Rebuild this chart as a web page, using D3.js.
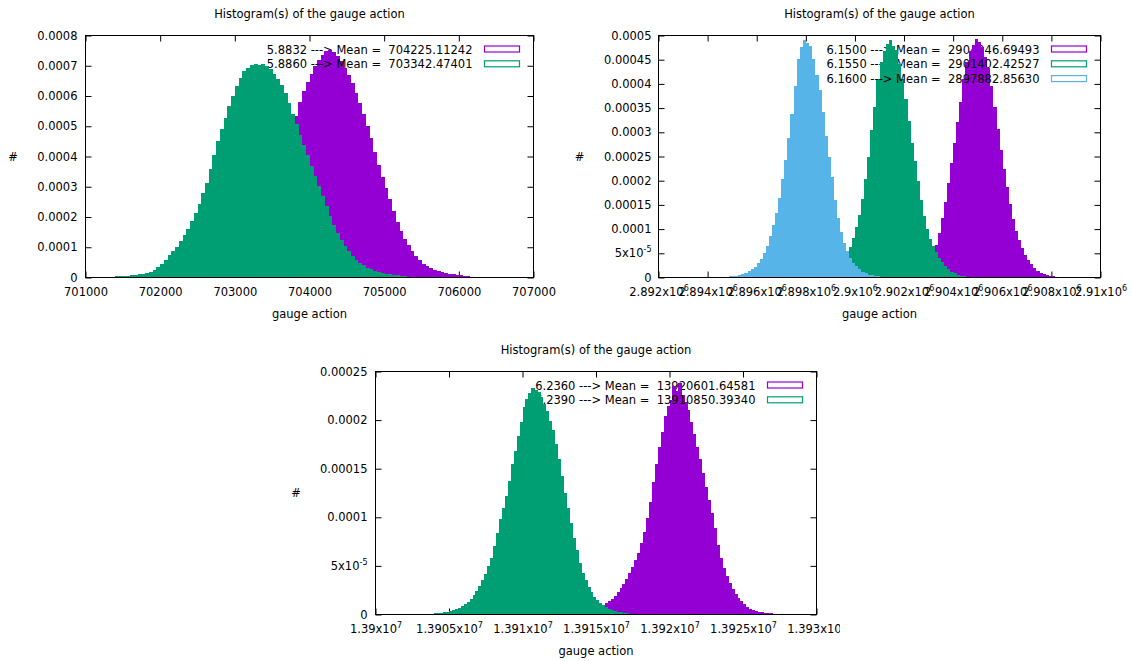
<!DOCTYPE html>
<html>
<head>
<meta charset="utf-8">
<script src="https://cdn.jsdelivr.net/npm/d3@7"></script>
<style>
  body { margin: 0; background: #fff; }
  svg text { font-family: "DejaVu Sans", sans-serif; font-size: 11.5px; fill: #000; white-space: pre; }
</style>
</head>
<body>
<svg id="chart" width="1132" height="661"></svg>
<script>
// histogram heights are typed in units of 1e-6
const UNIT = 1e-6;

const titleText = "Histogram(s) of the gauge action";
const xLabelText = "gauge action";
const yLabelText = "#";

const purple = "#9400d3";
const green = "#009e73";
const blue = "#56b4e9";

// ---- panel 1 (top left)
const p1XTicks = [701000, 702000, 703000, 704000, 705000, 706000, 707000];
const p1XLabels = ["701000", "702000", "703000", "704000", "705000", "706000", "707000"];
const p1YTicks = [0, 0.0001, 0.0002, 0.0003, 0.0004, 0.0005, 0.0006, 0.0007, 0.0008];
const p1YLabels = ["0", "0.0001", "0.0002", "0.0003", "0.0004", "0.0005", "0.0006", "0.0007", "0.0008"];
const p1Keys = ["5.8832 ---> Mean =  704225.11242", "5.8860 ---> Mean =  703342.47401"];
const p1BinWidth = 50;
const p1PurpleStart = 702200;
const p1Purple = [
  1, 1, 2, 2, 3, 4, 5, 6, 8, 10,
  13, 16, 20, 25, 32, 40, 50, 62, 76, 92,
  112, 135, 160, 188, 220, 255, 292, 332, 372, 414,
  456, 498, 535, 580, 618, 645, 672, 698, 718, 737,
  748, 752, 744, 733, 715, 693, 668, 642, 610, 578,
  541, 501, 460, 415, 371, 333, 296, 258, 220, 184,
  155, 128, 106, 88, 72, 58, 46, 37, 30, 25,
  20, 17, 14, 12, 10, 8, 7, 5, 4, 3,
  3, 2, 2, 2, 1, 1, 1, 1, 1, 1,
  1];
const p1GreenStart = 701100;
const p1Green = [
  1, 1, 2, 2, 3, 3, 4, 4, 5, 6,
  8, 9, 10, 12, 15, 19, 26, 34, 44, 58,
  74, 88, 102, 121, 139, 160, 186, 214, 244, 278,
  313, 358, 404, 450, 492, 528, 566, 601, 632, 658,
  681, 694, 702, 706, 704, 707, 699, 688, 674, 657,
  636, 610, 577, 540, 506, 472, 438, 404, 370, 336,
  302, 268, 236, 204, 175, 148, 123, 103, 86, 71,
  58, 48, 40, 33, 28, 23, 19, 16, 13, 11,
  9, 7, 6, 4, 3, 3, 2, 2, 1, 1,
  1];

// ---- panel 2 (top right)
const p2XTicks = [2892000, 2894000, 2896000, 2898000, 2900000, 2902000, 2904000, 2906000, 2908000, 2910000];
const p2XLabels = ["2.892x10^6", "2.894x10^6", "2.896x10^6", "2.898x10^6", "2.9x10^6",
  "2.902x10^6", "2.904x10^6", "2.906x10^6", "2.908x10^6", "2.91x10^6"];
const p2YTicks = [0, 0.00005, 0.0001, 0.00015, 0.0002, 0.00025, 0.0003, 0.00035, 0.0004, 0.00045, 0.0005];
const p2YLabels = ["0", "5x10^-5", "0.0001", "0.00015", "0.0002", "0.00025", "0.0003", "0.00035", "0.0004", "0.00045", "0.0005"];
const p2Keys = ["6.1500 ---> Mean =  2904946.69493", "6.1550 ---> Mean =  2901402.42527", "6.1600 ---> Mean =  2897882.85630"];
const p2BinWidth = 125;
const p2PurpleStart = 2901750;
const p2Purple = [
  1, 1, 2, 3, 4, 6, 9, 13, 19, 27,
  37, 50, 68, 92, 122, 155, 196, 236, 278, 322,
  362, 410, 445, 468, 480, 492, 486, 476, 455, 432,
  395, 352, 306, 264, 224, 186, 152, 120, 96, 78,
  60, 46, 36, 27, 20, 14, 10, 7, 5, 4,
  3, 2, 2, 1, 1, 1, 1];
const p2GreenStart = 2898250;
const p2Green = [
  1, 1, 2, 3, 4, 6, 9, 13, 18, 26,
  35, 47, 63, 82, 104, 130, 162, 203, 250, 305,
  352, 410, 446, 468, 482, 490, 478, 470, 442, 410,
  368, 324, 278, 240, 200, 160, 128, 101, 80, 66,
  52, 41, 31, 24, 17, 12, 9, 6, 4, 3,
  2, 1, 1];
const p2BlueStart = 2894250;
const p2Blue = [
  1, 1, 1, 2, 2, 3, 3, 4, 6, 8,
  10, 13, 17, 22, 29, 38, 50, 66, 85, 108,
  134, 165, 203, 242, 288, 338, 395, 452, 476, 490,
  484, 478, 452, 418, 388, 342, 293, 250, 207, 160,
  123, 94, 72, 55, 41, 30, 23, 17, 12, 9,
  6, 5, 3, 3, 2, 1, 1];

// ---- panel 3 (bottom)
const p3XTicks = [13900000, 13905000, 13910000, 13915000, 13920000, 13925000, 13930000];
const p3XLabels = ["1.39x10^7", "1.3905x10^7", "1.391x10^7", "1.3915x10^7", "1.392x10^7", "1.3925x10^7", "1.393x10^7"];
const p3YTicks = [0, 0.00005, 0.0001, 0.00015, 0.0002, 0.00025];
const p3YLabels = ["0", "5x10^-5", "0.0001", "0.00015", "0.0002", "0.00025"];
const p3Keys = ["6.2360 ---> Mean =  13920601.64581", "6.2390 ---> Mean =  13910850.39340"];
const p3BinWidth = 200;
const p3PurpleStart = 13912400;
const p3Purple = [
  1, 1, 1, 1, 1, 2, 2, 2, 3, 3,
  4, 5, 6, 7, 8, 10, 12, 14, 16, 19,
  23, 27, 31, 37, 43, 49, 56, 63, 74, 85,
  99, 116, 136, 155, 172, 188, 204, 214, 221, 235,
  230, 238, 226, 219, 210, 198, 186, 172, 160, 146,
  131, 118, 104, 89, 72, 58, 48, 40, 32, 26,
  21, 17, 14, 11, 8, 6, 5, 4, 3, 3,
  2, 2, 2, 1, 1, 1, 1, 1, 1, 1,
  1, 1, 1, 1];
const p3GreenStart = 13902400;
const p3Green = [
  1, 1, 1, 1, 1, 1, 1, 1, 2, 2,
  2, 3, 3, 4, 5, 6, 7, 9, 11, 13,
  16, 20, 24, 29, 35, 42, 50, 58, 70, 84,
  98, 110, 122, 137, 155, 168, 184, 198, 213, 222,
  228, 233, 231, 229, 224, 217, 209, 199, 190, 175,
  160, 143, 125, 110, 94, 79, 66, 53, 43, 35,
  28, 23, 18, 15, 12, 10, 8, 6, 5, 4,
  3, 3, 2, 2, 1, 1, 1, 1, 1];

const svg = d3.select("#chart");

// label like "2.9x10^6" -> base text plus a superscript tspan
function setLabel(sel, s) {
  const parts = s.split("^");
  sel.text(parts[0]);
  if (parts[1]) {
    sel.append("tspan").attr("dy", "-5").style("font-size", "8px").text(parts[1]);
  }
}

function drawPanel(p) {
  const g = svg.append("g");
  if (p.clip) {
    svg.append("clipPath").attr("id", p.clip.id)
      .append("rect")
      .attr("x", p.clip.x).attr("y", p.clip.y)
      .attr("width", p.clip.w).attr("height", p.clip.h);
    g.attr("clip-path", `url(#${p.clip.id})`);
  }
  const { left, right, top, bottom } = p.box;

  const x = d3.scaleLinear().domain([p.xTicks[0], p.xTicks[p.xTicks.length - 1]]).range([left, right]);
  const y = d3.scaleLinear().domain([0, p.yTicks[p.yTicks.length - 1]]).range([bottom, top]);

  // titles
  g.append("text")
    .attr("x", (left + right) / 2).attr("y", top - 18)
    .attr("text-anchor", "middle")
    .text(titleText);
  g.append("text")
    .attr("x", (left + right) / 2).attr("y", bottom + 40.5)
    .attr("text-anchor", "middle")
    .text(xLabelText);
  g.append("text")
    .attr("x", left - p.yLabelOffset).attr("y", (top + bottom) / 2 + 4)
    .attr("text-anchor", "middle")
    .text(yLabelText);

  // ticks, pointing inward on all four sides (gnuplot mirror)
  const bottomAxis = g.append("g")
    .attr("transform", `translate(0,${bottom})`)
    .call(d3.axisBottom(x).tickValues(p.xTicks).tickSize(-6).tickSizeOuter(0).tickPadding(10));
  bottomAxis.selectAll(".tick text").each(function (d, i) { setLabel(d3.select(this), p.xLabels[i]); });

  g.append("g")
    .attr("transform", `translate(0,${top})`)
    .call(d3.axisTop(x).tickValues(p.xTicks).tickSize(-6).tickSizeOuter(0).tickFormat(""));

  const leftAxis = g.append("g")
    .attr("transform", `translate(${left},0)`)
    .call(d3.axisLeft(y).tickValues(p.yTicks).tickSize(-6).tickSizeOuter(0).tickPadding(p.yPad));
  leftAxis.selectAll(".tick text").each(function (d, i) { setLabel(d3.select(this), p.yLabels[i]); });

  g.append("g")
    .attr("transform", `translate(${right},0)`)
    .call(d3.axisRight(y).tickValues(p.yTicks).tickSize(-6).tickSizeOuter(0).tickFormat(""));

  g.selectAll(".domain").remove();
  g.selectAll(".tick line").attr("stroke", "#000");

  // each key entry is drawn just before its own histogram (as gnuplot does)
  p.series.forEach((s, i) => {
    const base = top + 18 + i * 14.8;
    g.append("text")
      .attr("x", right - 61).attr("y", base)
      .attr("text-anchor", "end")
      .text(s.key);
    g.append("rect")
      .attr("x", right - 49).attr("y", base - 7.5)
      .attr("width", 35).attr("height", 6)
      .attr("fill", "none")
      .attr("stroke", s.color)
      .attr("stroke-width", 1.2);

    g.append("g")
      .attr("shape-rendering", "crispEdges")
      .selectAll("rect")
      .data(s.values)
      .join("rect")
      .attr("x", (d, j) => x(s.start + j * s.width))
      .attr("width", (d, j) => x(s.start + (j + 1) * s.width) - x(s.start + j * s.width) + 0.4)
      .attr("y", d => y(d * UNIT))
      .attr("height", d => y(0) - y(d * UNIT))
      .attr("fill", s.color);
  });

  // border
  g.append("rect")
    .attr("x", left).attr("y", top)
    .attr("width", right - left).attr("height", bottom - top)
    .attr("fill", "none")
    .attr("stroke", "#000")
    .attr("stroke-width", 1);
}

drawPanel({
  box: { left: 85.5, right: 533.5, top: 35.5, bottom: 277.5 },
  xTicks: p1XTicks, xLabels: p1XLabels,
  yTicks: p1YTicks, yLabels: p1YLabels,
  yPad: 8, yLabelOffset: 72.5,
  series: [
    { key: p1Keys[0], color: purple, start: p1PurpleStart, width: p1BinWidth, values: p1Purple },
    { key: p1Keys[1], color: green, start: p1GreenStart, width: p1BinWidth, values: p1Green }
  ]
});

drawPanel({
  box: { left: 658.5, right: 1100.5, top: 35.5, bottom: 277.5 },
  xTicks: p2XTicks, xLabels: p2XLabels,
  yTicks: p2YTicks, yLabels: p2YLabels,
  yPad: 7, yLabelOffset: 79,
  series: [
    { key: p2Keys[0], color: purple, start: p2PurpleStart, width: p2BinWidth, values: p2Purple },
    { key: p2Keys[1], color: green, start: p2GreenStart, width: p2BinWidth, values: p2Green },
    { key: p2Keys[2], color: blue, start: p2BlueStart, width: p2BinWidth, values: p2Blue }
  ]
});

drawPanel({
  box: { left: 375.5, right: 816.5, top: 371.5, bottom: 614.5 },
  xTicks: p3XTicks, xLabels: p3XLabels,
  yTicks: p3YTicks, yLabels: p3YLabels,
  yPad: 8, yLabelOffset: 79.5,
  clip: { id: "clip3", x: 270, y: 330, w: 570, h: 331 },
  series: [
    { key: p3Keys[0], color: purple, start: p3PurpleStart, width: p3BinWidth, values: p3Purple },
    { key: p3Keys[1], color: green, start: p3GreenStart, width: p3BinWidth, values: p3Green }
  ]
});
</script>
</body>
</html>
